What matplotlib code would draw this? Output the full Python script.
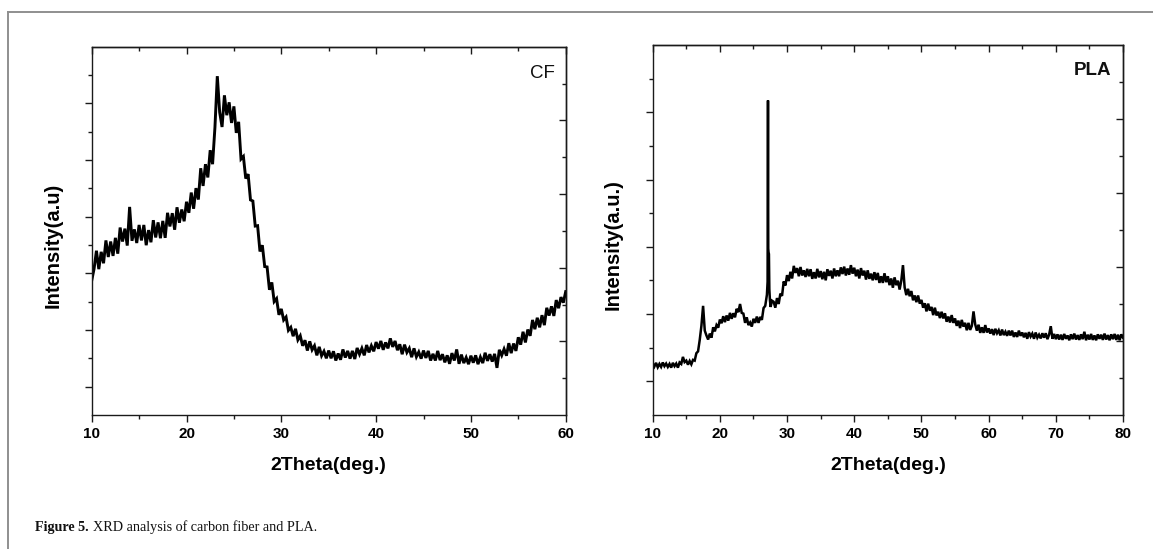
import numpy as np
import matplotlib
matplotlib.use("Agg")
import matplotlib.pyplot as plt
from matplotlib.ticker import FixedLocator, NullFormatter
from matplotlib.lines import Line2D

plt.rcParams['font.family'] = ['Liberation Sans', 'DejaVu Sans']

# ---------------- data (intensity in % of axis height) -------------
cf_theta = np.arange(10, 60.001, 0.25)
cf_intensity = [
    36.5, 39.7, 44.6, 39.6,  44.3, 41.2, 47.4, 42.9,  47.1, 43.2, 48.1, 43.8,
    50.9, 47.1, 50.6, 46.0,  56.5, 47.3, 50.4, 46.7,  51.6, 47.4, 51.6, 46.1,
    50.2, 46.9, 52.9, 48.2,  52.3, 48.0, 52.7, 48.1,  54.9, 51.2, 54.8, 50.3,
    56.4, 52.2, 55.8, 52.6,  57.9, 54.9, 60.4, 56.0,  61.6, 58.5, 67.0, 62.2,
    68.1, 64.5, 71.9, 68.1,  78.1, 92.0, 82.2, 78.2,  86.8, 81.4, 84.9, 79.3,
    83.8, 76.6, 79.6, 69.5,  70.2, 64.2, 65.4, 58.4,  58.1, 51.3, 51.4, 44.4,
    46.1, 40.3, 40.2, 34.0,  36.0, 30.8, 31.6, 27.2,  28.8, 25.8, 26.6, 23.0,
    23.8, 21.4, 23.4, 20.4,  21.5, 18.8, 20.3, 17.5,  20.0, 17.7, 18.8, 16.2,
    18.5, 16.1, 17.3, 15.4,  17.5, 15.4, 17.3, 14.8,  16.7, 15.0, 17.8, 15.6,
    17.4, 15.3, 17.4, 15.2,  18.2, 16.5, 18.1, 16.2,  19.0, 17.0, 18.8, 17.3,
    19.8, 18.0, 20.1, 17.7,  19.7, 18.1, 20.8, 18.5,  20.1, 17.6, 19.2, 16.5,
    19.1, 17.0, 18.1, 15.7,  18.1, 15.8, 17.1, 15.3,  17.5, 15.5, 17.4, 14.8,
    16.6, 14.8, 17.4, 14.9,  16.5, 14.3, 16.2, 13.9,  16.8, 14.8, 17.8, 13.9,
    16.4, 14.1, 15.6, 13.8,  16.1, 14.2, 16.2, 13.8,  15.7, 14.1, 16.9, 14.7,
    16.5, 14.5, 16.6, 12.8,  17.7, 16.2, 17.9, 16.1,  19.5, 16.8, 19.4, 17.4,
    21.1, 19.1, 22.6, 19.7,  23.2, 21.5, 25.8, 23.3,  26.4, 23.8, 27.1, 24.4,
    29.1, 27.0, 29.5, 26.9,  31.2, 29.0, 32.0, 30.5,  33.5,
]

pla_theta_low = np.arange(10, 26.751, 0.25)
pla_intensity_low = [
    14.0, 13.1, 14.1, 12.9,  13.8, 13.0, 14.2, 13.2,  13.9, 13.0, 13.8, 12.8,
    14.1, 13.2, 13.9, 12.8,  14.2, 13.8, 15.7, 14.3,  14.7, 13.6, 14.6, 13.7,
    14.9, 14.7, 16.7, 17.2,  20.3, 24.1, 29.5, 22.8,  21.5, 20.4, 22.0, 20.9,
    23.7, 22.6, 24.3, 23.6,  25.8, 24.8, 26.7, 25.1,  26.9, 25.5, 27.6, 26.0,
    27.5, 26.4, 28.7, 27.8,  30.0, 27.6, 27.4, 24.9,  26.4, 24.3, 25.0, 23.9,
    26.0, 24.9, 26.6, 24.9,  26.5, 25.7, 28.9, 29.5,
]
pla_theta_spike = [27.0, 27.1, 27.16, 27.2, 27.24, 27.3, 27.36, 27.45, 27.55]
pla_intensity_spike = [32.5, 36.0, 85.0, 45.0, 44.0, 43.5, 34.0, 31.0, 29.2]
pla_theta_high = np.arange(27.75, 80.001, 0.25)
pla_intensity_high = [
    30.9,
    30.6, 29.0, 31.6, 30.0,  32.8, 32.2, 36.1, 35.0,  37.8, 36.2, 38.7, 36.9,
    40.3, 38.4, 39.7, 37.5,  40.0, 37.7, 39.1, 37.3,  39.5, 37.5, 39.4, 36.8,
    38.6, 36.9, 39.5, 37.2,  38.9, 36.7, 38.7, 36.4,  39.4, 37.6, 39.0, 36.9,
    39.6, 37.5, 39.1, 37.5,  39.9, 38.1, 40.1, 37.7,  39.6, 37.9, 40.5, 38.2,
    39.8, 37.5, 39.3, 36.9,  39.7, 37.7, 39.0, 36.6,  39.1, 36.8, 38.2, 36.4,
    38.6, 36.5, 38.4, 35.7,  37.5, 35.7, 38.3, 35.9,  37.5, 35.1, 36.9, 34.4,
    37.2, 35.1, 36.3, 33.9,  36.3, 40.5, 34.5, 32.4,  34.1, 32.1, 33.5, 31.0,
    32.3, 30.5, 32.3, 30.1,  31.1, 29.0, 30.2, 28.0,  30.1, 28.2, 29.2, 27.0,
    29.0, 26.9, 27.9, 26.2,  27.9, 26.1, 27.5, 25.2,  26.6, 25.0, 27.0, 24.9,
    26.1, 24.1, 25.5, 23.5,  25.7, 23.9, 24.9, 22.9,  24.9, 23.0, 24.1, 28.0,
    24.5, 22.8, 24.4, 22.2,  23.7, 22.2, 24.3, 22.3,  23.4, 22.0, 23.2, 21.6,
    23.3, 22.1, 22.9, 21.5,  23.1, 21.6, 22.5, 21.4,  22.8, 21.5, 22.8, 21.1,
    22.3, 21.1, 22.8, 21.4,  22.3, 21.0, 22.2, 20.6,  22.4, 21.2, 22.0, 20.6,
    22.3, 20.9, 21.7, 20.7,  22.1, 20.9, 22.1, 20.5,  21.7, 24.0, 20.6, 21.9,
    20.5, 21.8, 20.4, 21.7,  20.3, 21.9, 20.6, 21.5,  20.2, 21.8, 20.5, 22.0,
    20.4, 21.6, 20.3, 21.8,  20.5, 22.5, 20.2, 21.7,  20.4, 21.9, 20.3, 21.5,
    20.2, 21.8, 20.6, 21.7,  20.3, 22.0, 20.4, 21.6,  20.2, 21.8, 20.5, 21.9,
    20.3, 21.7, 20.2, 21.8,
    20.9,
]

cf_xticks = [10, 20, 30, 40, 50, 60]
pla_xticks = [10, 20, 30, 40, 50, 60, 70, 80]
xlabel_text = "2Theta(deg.)"
cf_ylabel = "Intensity(a.u)"
pla_ylabel = "Intensity(a.u.)"
caption_bold = "Figure 5."
caption_rest = "XRD analysis of carbon fiber and PLA."

assert len(cf_intensity) == len(cf_theta)
assert len(pla_intensity_low) == len(pla_theta_low)
assert len(pla_intensity_high) == len(pla_theta_high)

pla_theta = np.concatenate([pla_theta_low, pla_theta_spike, pla_theta_high])
pla_intensity = np.concatenate([pla_intensity_low, pla_intensity_spike, pla_intensity_high])

# ---------------- figure -------------
W, H = 1153, 549
fig = plt.figure(figsize=(W / 100, H / 100), dpi=100)
fig.patch.set_facecolor('white')

ax1 = fig.add_axes([91.7 / W, 1 - 415 / H, 474 / W, 368.3 / H])
ax2 = fig.add_axes([652.7 / W, 1 - 415 / H, 470.3 / W, 370 / H])

spine_c = '#1a1a1a'


def style(ax, xticks, left_major, left_minor, ylabel, ylab_x):
    ax.set_ylim(0, 100)
    ax.set_xlim(xticks[0], xticks[-1])
    for s in ax.spines.values():
        s.set_linewidth(1.0)
        s.set_color(spine_c)
    xminor = [t + 5 for t in xticks[:-1]]
    ax.xaxis.set_major_locator(FixedLocator(xticks))
    ax.xaxis.set_minor_locator(FixedLocator(xminor))
    ax.yaxis.set_major_locator(FixedLocator(left_major))
    ax.yaxis.set_minor_locator(FixedLocator(left_minor))
    ax.yaxis.set_major_formatter(NullFormatter())
    ax.tick_params(which='both', direction='out', top=False, right=False,
                   width=1.0, color=spine_c)
    ax.tick_params(which='major', length=4.8)
    ax.tick_params(which='minor', length=3)
    ax.tick_params(axis='x', labelsize=11, pad=4)
    for lab in ax.get_xticklabels():
        lab.set_fontweight('bold')
    ax.set_xlabel(xlabel_text, fontsize=14, fontweight='bold', labelpad=11)
    ax.set_ylabel(ylabel, fontsize=14.5, fontweight='bold')
    ax.yaxis.set_label_coords(ylab_x, 0.46)

    top = ax.secondary_xaxis('top')
    top.set_xticks(xticks)
    top.set_xticks(xminor, minor=True)
    top.xaxis.set_major_formatter(NullFormatter())
    top.tick_params(which='both', direction='in', width=1.0, color=spine_c)
    top.tick_params(which='major', length=4.8)
    top.tick_params(which='minor', length=3)
    top.spines['top'].set_linewidth(1.0)
    top.spines['top'].set_color(spine_c)

    right = ax.secondary_yaxis('right')
    right.set_yticks([20, 40, 60, 80])
    right.set_yticks([10, 30, 50, 70, 90], minor=True)
    right.yaxis.set_major_formatter(NullFormatter())
    right.tick_params(which='both', direction='in', width=1.0, color=spine_c)
    right.tick_params(which='major', length=4.8)
    right.tick_params(which='minor', length=3)
    right.spines['right'].set_linewidth(1.0)
    right.spines['right'].set_color(spine_c)


cf_left_major = [k * 100 / 13 for k in (1, 3, 5, 7, 9, 11)]
cf_left_minor = [k * 100 / 13 for k in (2, 4, 6, 8, 10, 12)]
pla_left_major = [k * 100 / 11 for k in (1, 3, 5, 7, 9)]
pla_left_minor = [k * 100 / 11 for k in (2, 4, 6, 8, 10)]

ax1.plot(cf_theta, cf_intensity, color='black', lw=2.1, solid_joinstyle='miter')
ax2.plot(pla_theta, pla_intensity, color='black', lw=1.8, solid_joinstyle='miter')

style(ax1, cf_xticks, cf_left_major, cf_left_minor, cf_ylabel, -0.062)
style(ax2, pla_xticks, pla_left_major, pla_left_minor, pla_ylabel, -0.064)

ax1.text(0.977, 0.926, 'CF', transform=ax1.transAxes, ha='right', va='center',
         fontsize=13.5, color='#111111')
ax2.text(0.976, 0.932, 'PLA', transform=ax2.transAxes, ha='right', va='center',
         fontsize=13.5, fontweight='bold', color='#111111')

# page frame (left and top rules)
frame_c = '#8f8f8f'
fig.add_artist(Line2D([8 / W, 8 / W], [0, 1 - 12 / H], transform=fig.transFigure,
                      color=frame_c, lw=1.4))
fig.add_artist(Line2D([8 / W, 1], [1 - 12 / H, 1 - 12 / H], transform=fig.transFigure,
                      color=frame_c, lw=1.4))

# caption
serif = ['Liberation Serif', 'DejaVu Serif']
t1 = fig.text(35 / W, 1 - 531 / H, caption_bold, family=serif, fontweight='bold',
              fontsize=10.2, va='baseline', ha='left', color='#111111')
fig.canvas.draw()
bb = t1.get_window_extent()
t2 = fig.text((bb.x1 + 4) / W, 1 - 531 / H, caption_rest, family=serif,
              fontsize=10.2, va='baseline', ha='left', color='#111111')

fig.savefig('out.png', dpi=100, facecolor='white')
